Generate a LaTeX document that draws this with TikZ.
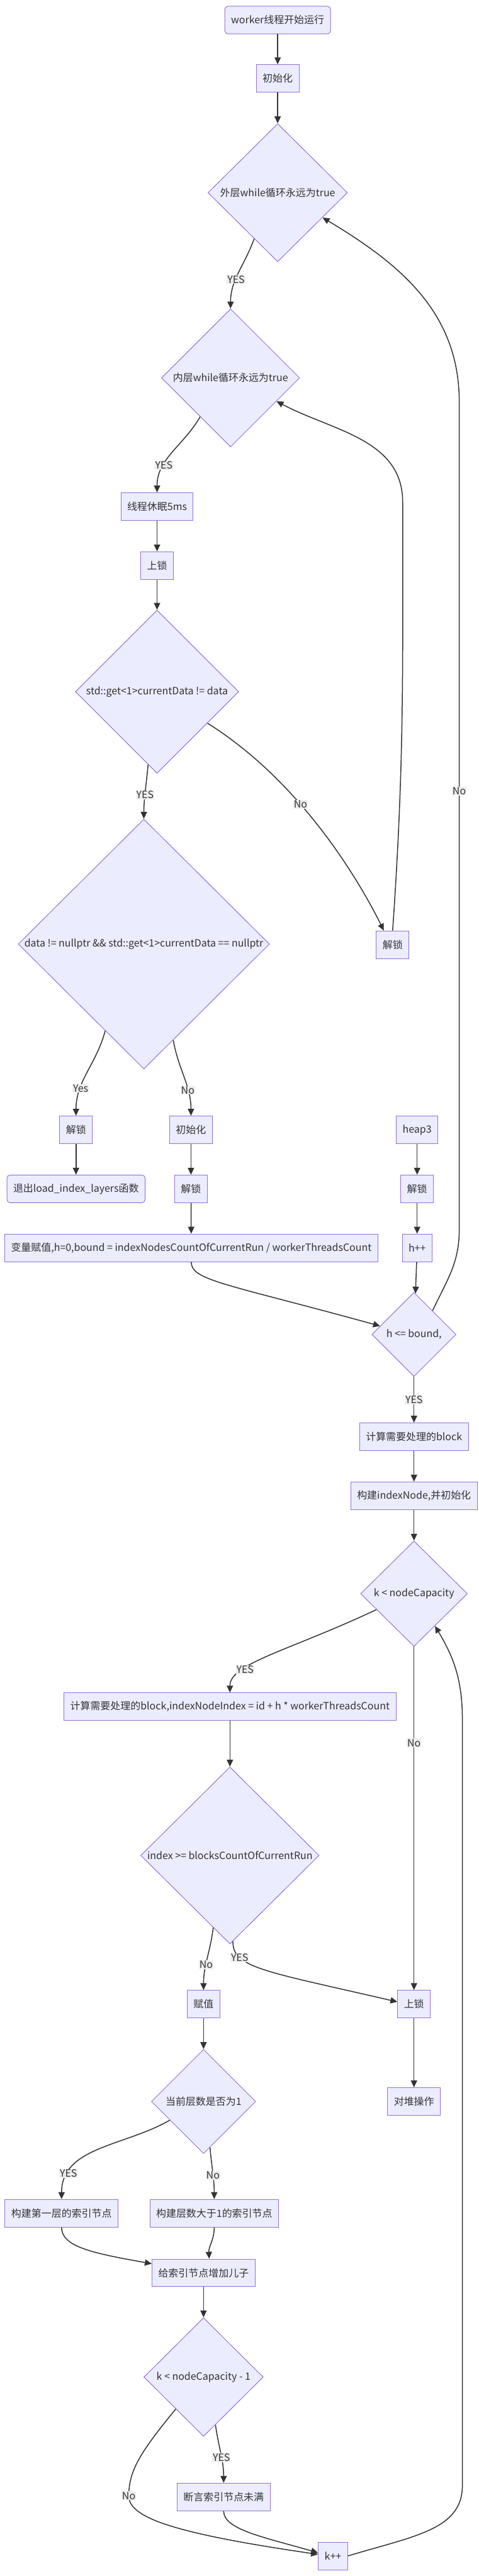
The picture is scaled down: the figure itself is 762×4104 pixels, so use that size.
\documentclass[tikz,border=0pt]{standalone}
\usepackage{fontspec}
\setmainfont{Noto Sans CJK SC}
\usetikzlibrary{shapes.geometric,arrows.meta}
\definecolor{colorNode}{HTML}{ECECFF}
\definecolor{colorBorder}{HTML}{9370DB}
\definecolor{colorLine}{HTML}{333333}
\definecolor{colorLabel}{HTML}{EDEDED}
\newcommand{\flowfont}{\fontsize{16}{19}\selectfont}
\tikzset{
   every path/.style={>={Triangle[length=11pt,width=10pt]}},
   box/.style={rectangle,draw=colorBorder,fill=colorNode,text=colorLine,font=\flowfont,minimum height=44pt,inner xsep=10pt,line width=1pt},
   rbox/.style={box,rounded corners=5pt},
   cond/.style={diamond,aspect=1,inner sep=0pt,draw=colorBorder,fill=colorNode,text=colorLine,font=\flowfont,line width=1pt},
   fl/.style={->,color=colorLine,line width=1.5pt},
   lbl/.style={fill=colorLabel,text=colorLine,font=\flowfont,inner sep=1pt},
}

\begin{document}
\begin{tikzpicture}[x=1pt, y=-1pt]
    \useasboundingbox (0,0) rectangle (762,4104);

    \node[rbox] (start) at (442,32)  {worker线程开始运行};
    \node[box]  (init)  at (442,125) {初始化};
    \node[cond,minimum width=222pt,minimum height=220pt] (outer) at (442,307) {外层while循环永远为true};
    \node[cond,minimum width=220pt,minimum height=220pt] (inner) at (367,602) {内层while循环永远为true};
    \node[box]  (sleep) at (250,807) {线程休眠5ms};
    \node[box]  (lock)  at (250,901) {上锁};
    \node[cond,minimum width=260pt,minimum height=260pt] (cur)  at (250,1102) {std::get<1>currentData != data};
    \node[cond,minimum width=400pt,minimum height=398pt] (data) at (229,1504) {data != nullptr \&\& std::get<1>currentData == nullptr};
    \node[box]  (unlockr) at (625,1505) {解锁};

    \draw[fl] (start) -- (init);
    \draw[fl] (init) -- (outer);
    \draw[fl] (outer.-117) to[out=-110,in=90] node[lbl,pos=0.6] {YES} (inner.north);
    \draw[fl] (inner.-128) to[out=-120,in=90] node[lbl,pos=0.68] {YES} (sleep.north);
    \draw[fl] (sleep) -- (lock);
    \draw[fl] (lock) -- (cur);
    \draw[fl] (cur.-97) to[out=-95,in=90] node[lbl,pos=0.56] {YES} (data.north);
    \draw[fl] (cur.-32) .. controls (483,1248) and (575,1410) .. node[lbl,pos=0.38] {No} ([xshift=-14pt]unlockr.north);
    \draw[fl] (unlockr.north) to[out=86,in=-90] (641,800) to[out=90,in=-28] (inner.-27);

    \node[box]  (unlockl) at (121,1800) {解锁};
    \node[box]  (initb)   at (304,1800) {初始化};
    \node[box]  (heap)    at (664,1800) {heap3};
    \node[rbox] (exitf)   at (121,1894) {退出load\_index\_layers函数};
    \node[box]  (unlockm) at (304,1894) {解锁};
    \node[box]  (unlockh) at (664,1894) {解锁};
    \node[box]  (assign)  at (304.5,1988) {变量赋值,h=0,bound = indexNodesCountOfCurrentRun / workerThreadsCount};
    \node[box]  (hinc)    at (664,1988) {h++};
    \node[cond,minimum width=134pt,minimum height=134pt] (hle) at (659,2126) {h <= bound,};

    \draw[fl] (data.-114) to[out=-105,in=90] node[lbl,pos=0.7] {Yes} (unlockl.north);
    \draw[fl] (data.-73) to[out=-80,in=90] node[lbl,pos=0.68] {No} (initb.north);
    \draw[fl] (unlockl) -- (exitf);
    \draw[fl] (initb) -- (unlockm);
    \draw[fl] (unlockm) -- (assign);
    \draw[fl] (heap) -- (unlockh);
    \draw[fl] (unlockh) -- (hinc);
    \draw[fl] (hinc) -- (hle);
    \draw[fl] (assign.south) .. controls (304,2040) and (360,2045) .. (hle.166);
    \draw[fl] (hle.52) to[out=65,in=-90] (731,1960) -- node[lbl,pos=0.53] {No} (731,640) to[out=90,in=-31] (outer.-29);

    \node[box]  (calc)    at (659,2289) {计算需要处理的block};
    \node[box]  (build)   at (659,2383) {构建indexNode,并初始化};
    \node[cond,minimum width=170pt,minimum height=168pt] (kcap) at (659,2539) {k < nodeCapacity};
    \node[box]  (calcidx) at (366,2719) {计算需要处理的block,indexNodeIndex = id + h * workerThreadsCount};
    \node[cond,minimum width=284pt,minimum height=282pt] (idx) at (366,2956) {index >= blocksCountOfCurrentRun};
    \node[box]  (setv)    at (324,3193) {赋值};
    \node[box]  (lockr)   at (659,3193) {上锁};
    \node[cond,minimum width=166pt,minimum height=166pt] (layer) at (324,3348) {当前层数是否为1};
    \node[box]  (heapop)  at (659,3348) {对堆操作};

    \draw[fl] (hle) -- node[lbl] {YES} (calc);
    \draw[fl] (calc) -- (build);
    \draw[fl] (build) -- (kcap);
    \draw[fl] (kcap.-157) .. controls (460,2630) and (366,2650) .. node[lbl,pos=0.7] {YES} (calcidx.north);
    \draw[fl] (kcap) -- node[lbl,pos=0.28] {No} (lockr);
    \draw[fl] (calcidx) -- (idx);
    \draw[fl] (idx.-103) to[out=-97,in=90] node[lbl,pos=0.6] {No} (setv.north);
    \draw[fl] (idx.-88) .. controls (370,3135) and (420,3140) .. node[lbl,pos=0.25] {YES} (lockr.172);
    \draw[fl] (setv) -- (layer);
    \draw[fl] (lockr) -- (heapop);

    \node[box]  (first)   at (98,3526)  {构建第一层的索引节点};
    \node[box]  (higher)  at (341,3526) {构建层数大于1的索引节点};
    \node[box]  (addch)   at (324,3621) {给索引节点增加儿子};
    \node[cond,minimum width=190pt,minimum height=189pt] (kcapm) at (324,3787) {k < nodeCapacity - 1};
    \node[box]  (assertn) at (356,3978) {断言索引节点未满};
    \node[box]  (kinc)    at (530,4072) {k++};

    \draw[fl] (layer.-151) to[out=-150,in=90] node[lbl,pos=0.8] {YES} (first.north);
    \draw[fl] (layer.-82) to[out=-85,in=90] node[lbl,pos=0.54] {No} (higher.north);
    \draw[fl] (first.south) .. controls (98,3580) and (150,3590) .. (addch.170);
    \draw[fl] (higher.south) to[out=-90,in=93] ([xshift=9pt]addch.north);
    \draw[fl] (addch) -- (kcapm);
    \draw[fl] (kcapm.-76) to[out=-82,in=90] node[lbl,pos=0.57] {YES} (assertn.north);
    \draw[fl] (kcapm.-131) .. controls (225,3905) and (205,3935) .. (205,3976) node[lbl] {No}
        .. controls (205,4010) and (270,4035) .. (kinc.174);
    \draw[fl] (assertn.south) .. controls (356,4030) and (420,4042) .. (kinc.168);
    \draw[fl] (kinc.east) .. controls (660,4040) and (736,4030) .. (736,3960) -- (736,2740) to[out=90,in=-59] (kcap.-57);

\end{tikzpicture}
\end{document}
